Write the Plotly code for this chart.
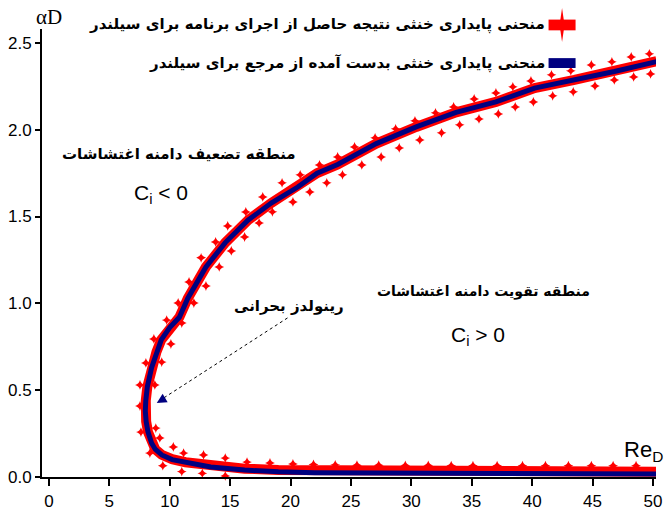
import plotly.graph_objects as go

# ---------------- data ----------------
# reference neutral-stability curve (blue)
ref_re = [50.3, 45.0, 40.0, 35.0, 30.0, 25.0, 22.0, 19.0, 16.2, 13.4, 11.3, 10.2, 9.34, 8.8,
          8.5, 8.2, 8.05, 7.98, 8.02, 8.15, 8.5, 8.9, 9.3, 10.0, 10.8, 11.5, 12.4, 13.0,
          14.6, 16.5, 18.4, 20.6, 22.2, 23.9, 27.1, 30.4, 33.7, 37.0, 40.2, 43.5, 46.8, 50.3]
ref_ad = [0.017, 0.018, 0.018, 0.019, 0.020, 0.022, 0.025, 0.030, 0.040, 0.058, 0.081, 0.100,
          0.127, 0.160, 0.196, 0.260, 0.320, 0.380, 0.440, 0.520, 0.630, 0.720, 0.790, 0.860,
          0.920, 1.030, 1.140, 1.210, 1.350, 1.480, 1.578, 1.670, 1.750, 1.800, 1.920, 2.016,
          2.100, 2.160, 2.240, 2.287, 2.335, 2.392]

# program result curve (red)
prog_re = [50.3, 45.0, 40.0, 35.0, 30.0, 25.0, 22.2, 19.0, 16.2, 13.4, 11.3, 10.2, 9.34, 8.8,
           8.5, 8.2, 8.05, 7.98, 8.02, 8.15, 8.5, 8.9, 9.3, 10.0, 10.8, 11.5, 12.4, 13.0,
           14.6, 16.5, 18.4, 20.6, 22.2, 23.9, 27.1, 30.4, 33.7, 37.0, 40.2, 43.5, 46.8, 50.3]
prog_ad = [0.030, 0.030, 0.030, 0.031, 0.031, 0.032, 0.036, 0.041, 0.048, 0.064, 0.085, 0.103,
           0.128, 0.160, 0.196, 0.260, 0.320, 0.380, 0.440, 0.520, 0.630, 0.720, 0.790, 0.860,
           0.920, 1.030, 1.140, 1.210, 1.350, 1.480, 1.578, 1.670, 1.750, 1.800, 1.920, 2.016,
           2.100, 2.160, 2.240, 2.287, 2.335, 2.395]

# program result points (red star markers)
pt_re = [49.7, 48.2, 46.6, 44.9, 43.2, 41.6, 39.9, 38.4, 37.0, 35.2, 33.5, 32.0, 30.3, 28.7,
         27.0, 25.3, 23.9, 22.4, 20.8, 19.3, 17.7, 16.3, 14.8, 13.8, 12.6, 11.6, 10.7, 9.75,
         8.69, 8.03, 7.54, 7.54, 7.62, 8.36, 9.43, 11.0, 12.7, 14.6, 16.4, 18.3, 20.2, 21.9,
         23.7, 25.5, 27.3, 29.5, 31.4, 33.3, 35.1, 37.1, 39.2, 41.1, 43.0, 44.9, 46.7, 48.6,
         49.8, 48.4, 46.8, 45.2, 43.4, 41.7, 40.1, 38.6, 37.2, 35.6, 34.0, 32.5, 30.7, 29.0,
         27.5, 25.9, 24.3, 23.0, 21.6, 20.2, 18.5, 17.4, 16.2, 15.1, 14.1, 13.0, 12.0, 11.0,
         10.1, 9.34, 8.77, 8.85, 9.18, 10.3, 11.15, 12.8, 14.6, 16.4, 18.3, 20.2, 21.9, 23.7,
         25.5, 27.3, 29.5, 31.4, 33.3, 35.1, 37.1, 39.2, 41.1, 43.0, 44.9, 46.7, 48.6]
pt_ad = [2.437, 2.419, 2.391, 2.373, 2.339, 2.316, 2.281, 2.247, 2.212, 2.177, 2.131, 2.097,
         2.051, 2.005, 1.953, 1.901, 1.843, 1.797, 1.740, 1.694, 1.613, 1.526, 1.446, 1.354,
         1.262, 1.123, 1.002, 0.904, 0.795, 0.657, 0.530, 0.409, 0.259, 0.138, 0.065, 0.031,
         0.021, 0.006, -0.033, -0.033, -0.035, -0.035, -0.035, -0.035, -0.035, -0.035, -0.035,
         -0.035, -0.035, -0.035, -0.035, -0.035, -0.035, -0.035, -0.035, -0.035,
         2.321, 2.304, 2.287, 2.252, 2.218, 2.195, 2.160, 2.131, 2.091, 2.062, 2.028, 1.982,
         1.941, 1.895, 1.843, 1.797, 1.740, 1.694, 1.642, 1.584, 1.527, 1.463, 1.382, 1.302,
         1.210, 1.100, 1.002, 0.887, 0.766, 0.662, 0.530, 0.282, 0.225, 0.173, 0.138, 0.127,
         0.109, 0.086, 0.081, 0.075, 0.072, 0.070, 0.068, 0.068, 0.067, 0.067, 0.066, 0.066,
         0.066, 0.065, 0.065, 0.065, 0.065, 0.065, 0.065]

x_ticks = [0, 5, 10, 15, 20, 25, 30, 35, 40, 45, 50]
x_tick_text = ["0", "5", "10", "15", "20", "25", "30", "35", "40", "45", "50"]
y_ticks = [0.0, 0.5, 1.0, 1.5, 2.0, 2.5]
y_tick_text = ["0.0", "0.5", "1.0", "1.5", "2.0", "2.5"]

legend_prog = "منحنی پایداری خنثی نتیجه حاصل از اجرای برنامه برای سیلندر"
legend_ref = "منحنی پایداری خنثی بدست آمده از مرجع برای سیلندر"
txt_damp = "منطقه تضعیف دامنه اغتشاشات"
txt_amp = "منطقه تقویت دامنه اغتشاشات"
txt_crit = "رینولدز بحرانی"

RED = "#ff0000"
NAVY = "#000080"
AR_FONT = "DejaVu Sans"
NUM_FONT = "Liberation Sans"

fig = go.Figure()
fig.add_trace(go.Scatter(x=prog_re, y=prog_ad, mode="lines",
                         line=dict(color=RED, width=10), showlegend=False,
                         hoverinfo="skip"))
fig.add_trace(go.Scatter(x=pt_re, y=pt_ad, mode="markers",
                         marker=dict(symbol="star-diamond", size=7, color=RED,
                                     line=dict(width=0)),
                         cliponaxis=False, showlegend=False))
fig.add_trace(go.Scatter(x=ref_re, y=ref_ad, mode="lines",
                         line=dict(color=NAVY, width=5), showlegend=False))

ann = []
def txt(x, y, t, size=15, xanchor="center", yanchor="middle", family=AR_FONT,
        xref="x", yref="y", color="black"):
    ann.append(dict(x=x, y=y, xref=xref, yref=yref, text=t, showarrow=False,
                    xanchor=xanchor, yanchor=yanchor,
                    font=dict(family=family, size=size, color=color)))

# region labels
txt(10.8, 1.86, "<b>" + txt_damp + "</b>", size=15)
txt(6.9, 1.63, "C<sub>i</sub> &lt; 0", size=21, xanchor="left", family=NUM_FONT)
txt(36.0, 1.066, "<b>" + txt_amp + "</b>", size=14)
txt(33.1, 0.81, "C<sub>i</sub> &gt; 0", size=21, xanchor="left", family=NUM_FONT)
txt(19.9, 0.985, "<b>" + txt_crit + "</b>", size=15)

# axis titles
txt(0.012, 1.027, "αD", size=21, family="Liberation Serif", xref="paper", yref="paper")
txt(0.945, 0.058, "Re<sub>D</sub>", size=22, xanchor="left", family=NUM_FONT,
    xref="paper", yref="paper")

# legend (right-to-left, symbol on the right)
txt(0.823, 1.009, "<b>" + legend_prog + "</b>", size=15, xanchor="right",
    xref="paper", yref="paper")
txt(0.823, 0.924, "<b>" + legend_ref + "</b>", size=15, xanchor="right",
    xref="paper", yref="paper")

# arrow for critical Reynolds
ann.append(dict(x=8.93, y=0.426, xref="x", yref="y", ax=10, ay=-6, showarrow=True,
                arrowhead=2, arrowsize=1.3, arrowwidth=1.5, arrowcolor=NAVY, text=" "))
# arrow tip of y axis
ann.append(dict(x=0, y=1, xref="paper", yref="paper", ax=0, ay=10, showarrow=True,
                arrowhead=2, arrowsize=1, arrowwidth=1.5, arrowcolor="black", text=" "))

shapes = [
    dict(type="line", xref="x", yref="y", x0=19.75, y0=0.916, x1=9.5, y1=0.455,
         line=dict(color="black", width=1, dash="dot")),
    # legend symbols
    dict(type="rect", xref="paper", yref="paper", x0=0.825, x1=0.869, y0=0.997, y1=1.021,
         fillcolor=RED, line=dict(width=0)),
    dict(type="rect", xref="paper", yref="paper", x0=0.825, x1=0.869, y0=0.913, y1=0.935,
         fillcolor=NAVY, line=dict(width=0)),
    dict(type="path", xref="paper", yref="paper",
         path="M 0.847 1.047 L 0.851 1.009 L 0.847 0.971 L 0.843 1.009 Z",
         fillcolor=RED, line=dict(width=0)),
]

fig.update_layout(
    width=666, height=524,
    margin=dict(l=42, r=4, t=29, b=47),
    paper_bgcolor="white", plot_bgcolor="white",
    showlegend=False,
    annotations=ann, shapes=shapes,
    xaxis=dict(range=[-0.57, 50.25], tickvals=x_ticks, ticktext=x_tick_text,
               showgrid=False, zeroline=False, showline=True, linecolor="black",
               linewidth=2, ticks="outside", ticklen=7, tickwidth=1.5,
               tickcolor="black", ticklabelstandoff=1, ticklabeloverflow="allow",
               tickfont=dict(family=NUM_FONT, size=17, color="black")),
    yaxis=dict(range=[0, 2.58], tickvals=y_ticks, ticktext=y_tick_text,
               showgrid=False, zeroline=False, showline=True, linecolor="black",
               linewidth=2, ticks="outside", ticklen=5, tickwidth=1.5,
               tickcolor="black",
               tickfont=dict(family=NUM_FONT, size=17, color="black")),
)

fig.write_html("out.html", config={"displayModeBar": False},
               post_script="document.body.style.margin='0';")
